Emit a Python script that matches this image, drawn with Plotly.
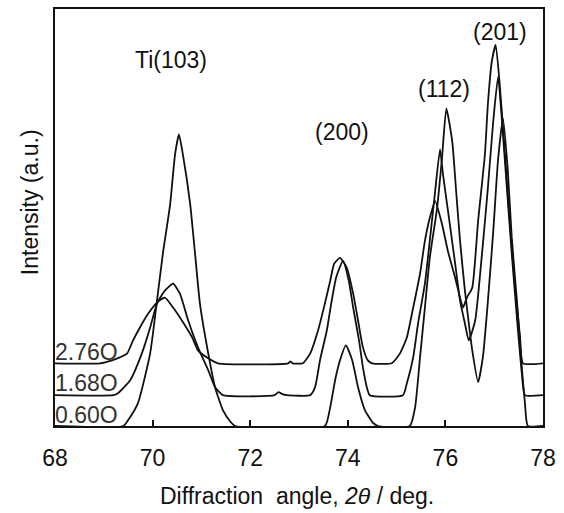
import plotly.graph_objects as go

# ---- data (2theta in deg, intensity above own baseline, arbitrary units) ----
x_060 = [68.0, 69.40, 69.50, 69.70, 69.95, 70.09, 70.21, 70.36, 70.46, 70.54, 70.62, 70.77, 70.87, 70.97,
         71.14, 71.28, 71.44, 71.60, 71.69, 73.53, 73.64, 73.74, 73.84, 73.96, 74.09, 74.21, 74.35,
         74.52, 74.62, 75.27, 75.38, 75.48, 75.58, 75.68, 75.83, 75.93, 76.02, 76.14, 76.22, 76.30,
         76.40, 76.48, 76.55, 76.67, 76.77, 76.87, 76.98, 77.08, 77.18, 77.28, 77.36, 77.47, 77.57,
         77.63, 77.69, 78.0]
y_060 = [0, 0, 6, 23, 73, 126, 173, 223, 273, 293, 273, 223, 173, 123,
         73, 39, 16, 4, 0, 0, 19, 46, 66, 81, 66, 39, 16,
         3, 0, 0, 19, 69, 119, 169, 219, 269, 319, 286, 236, 186,
         136, 103, 76, 44, 70, 125, 195, 268, 309, 256, 189, 123, 56,
         23, 0, 0]

x_168 = [68.0, 69.20, 69.29, 69.54, 69.78, 69.95, 70.09, 70.25, 70.42, 70.56, 70.73, 70.93, 71.14,
         71.28, 71.44, 72.50, 72.58, 72.66, 72.75, 73.23, 73.33, 73.43, 73.57, 73.66, 73.76, 73.90,
         74.02, 74.11, 74.23, 74.31, 74.39, 74.45, 75.13, 75.21, 75.34, 75.44, 75.58, 75.68, 75.79,
         75.89, 75.95, 76.09, 76.20, 76.30, 76.40, 76.48, 76.61, 76.75, 76.87, 76.98, 77.08, 77.16,
         77.26, 77.36, 77.47, 77.57, 77.63, 78.0]
y_168 = [0, 0, 2, 15, 42, 68, 92, 105, 112, 102, 75, 48, 25,
         8, 0, 0, 3, 1, 0, 0, 8, 35, 65, 92, 118, 135,
         115, 88, 55, 28, 8, 0, 0, 12, 38, 72, 112, 155, 205,
         247, 222, 172, 132, 95, 72, 55, 75, 142, 208, 275, 320, 275,
         208, 142, 75, 20, 0, 0]

x_276 = [68.0, 68.92, 69.17, 69.33, 69.48, 69.60, 69.74, 69.91, 70.09, 70.25, 70.42, 70.60, 70.81,
         70.93, 71.14, 71.34, 72.78, 72.82, 72.87, 73.08, 73.23, 73.39, 73.53, 73.64, 73.72, 73.84,
         73.98, 74.11, 74.21, 74.31, 74.41, 74.50, 74.90, 75.07, 75.21, 75.34, 75.48, 75.58, 75.68,
         75.79, 75.93, 76.05, 76.20, 76.30, 76.36, 76.44, 76.55, 76.67, 76.81, 76.87, 76.95, 77.03,
         77.12, 77.22, 77.32, 77.43, 77.53, 77.59, 78.0]
y_276 = [0, 0, 3, 6, 10, 23, 36, 50, 61, 66, 56, 43, 26,
         13, 5, 0, 0, 2, 0, 0, 10, 33, 60, 83, 100, 106,
         96, 70, 43, 16, 3, 0, 0, 10, 26, 56, 90, 123, 146,
         163, 140, 113, 86, 66, 56, 66, 76, 143, 210, 260, 303, 320,
         276, 210, 143, 76, 26, 0, 0]

sample_labels = ["0.60O", "1.68O", "2.76O"]
offsets = [0, 31, 63]
label_y = [11, 43, 74]

peak_labels = ["Ti(103)", "(200)", "(112)", "(201)"]
peak_x = [70.38, 73.88, 75.97, 77.12]
peak_y = [368, 295, 339, 396]

tick_vals = [68, 70, 72, 74, 76, 78]

FONT = "Arial, Liberation Sans, sans-serif"

fig = go.Figure()
for xs, ys, off in zip([x_060, x_168, x_276], [y_060, y_168, y_276], offsets):
    fig.add_trace(go.Scatter(x=xs, y=[v + off for v in ys], mode="lines",
                             line=dict(color="#111111", width=1.8, shape="spline", smoothing=0.5),
                             showlegend=False, hoverinfo="skip"))

annotations = []
for t, xv, yv in zip(peak_labels, peak_x, peak_y):
    annotations.append(dict(x=xv, y=yv, xref="x", yref="y", text=t, showarrow=False,
                            font=dict(size=23, color="#111111", family=FONT),
                            xanchor="center", yanchor="middle"))
for t, yv in zip(sample_labels, label_y):
    annotations.append(dict(x=0.0, y=yv, xref="paper", yref="y", text=t, showarrow=False,
                            font=dict(size=23, color="#333333", family=FONT),
                            xanchor="left", yanchor="middle", xshift=-2))
annotations.append(dict(x=0.496, y=-0.169, xref="paper", yref="paper",
                        text="Diffraction  angle, <i>2θ</i> / deg.", showarrow=False,
                        font=dict(size=23, color="#111111", family=FONT),
                        xanchor="center", yanchor="middle"))
annotations.append(dict(x=-0.051, y=0.537, xref="paper", yref="paper",
                        text="Intensity (a.u.)", showarrow=False, textangle=-90,
                        font=dict(size=23, color="#111111", family=FONT),
                        xanchor="center", yanchor="middle"))

fig.update_layout(
    width=564, height=513,
    margin=dict(l=55, r=21, t=7, b=87),
    paper_bgcolor="white", plot_bgcolor="white",
    font=dict(family=FONT, size=23, color="#111111"),
    annotations=annotations,
    xaxis=dict(range=[68, 78], tickvals=tick_vals, ticks="inside", ticklen=6,
               tickwidth=1.5, tickcolor="#111111", showline=True, linecolor="#111111",
               linewidth=2, mirror=True, showgrid=False, zeroline=False,
               ticklabelstandoff=10, tickfont=dict(size=23, family=FONT)),
    yaxis=dict(range=[0, 419], showticklabels=False, ticks="", showline=True,
               linecolor="#111111", linewidth=2, mirror=True, showgrid=False,
               zeroline=False),
)

fig.write_html("out.html", config={"displayModeBar": False},
               post_script="document.body.style.margin='0';document.body.style.padding='0';")
